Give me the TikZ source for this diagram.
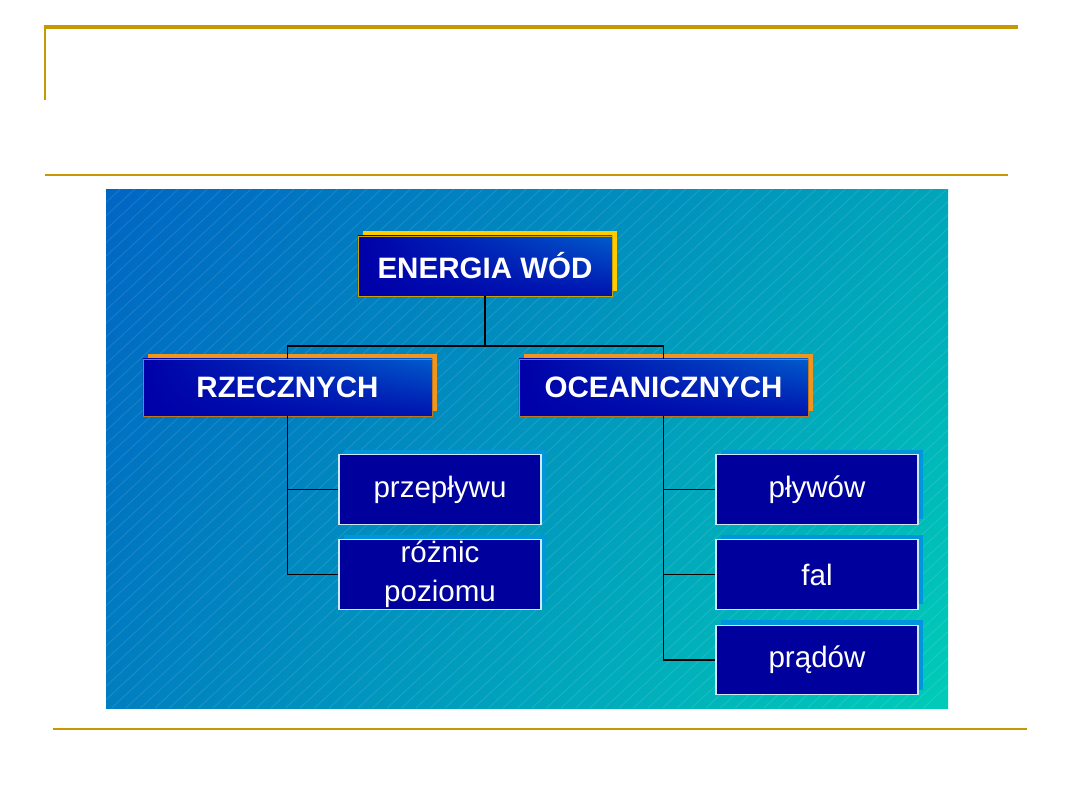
\documentclass[tikz,border=0pt]{standalone}
\usepackage{fontspec}
\setmainfont{Liberation Sans}
\usetikzlibrary{shadows,shadings}

\definecolor{gold}{RGB}{200,152,0}
\definecolor{bgtl}{RGB}{0,102,196}
\definecolor{bgtr}{RGB}{0,166,186}
\definecolor{bgbl}{RGB}{0,126,192}
\definecolor{bgbr}{RGB}{0,204,184}
\definecolor{navy}{RGB}{0,0,156}
\definecolor{boxlight}{RGB}{0,92,204}
\definecolor{boxdark}{RGB}{0,0,168}
\definecolor{yellowshadow}{RGB}{255,204,0}
\definecolor{orangeshadow}{RGB}{240,150,30}
\definecolor{blueshadow}{RGB}{0,150,222}

\begin{document}
\begin{tikzpicture}[
      x=0.025cm, y=-0.025cm,
      bigbox/.style={rectangle, inner sep=0pt, text=white,
        font=\fontsize{21}{25}\selectfont\bfseries,
        upper left=boxdark, lower left=boxdark, upper right=boxlight, lower right=boxdark!80!boxlight},
      topbox/.style={bigbox, draw=yellowshadow!80!black, line width=0.6pt,
        minimum width=6.35cm, minimum height=1.5cm,
        general shadow={fill=yellowshadow, shadow xshift=0.125cm, shadow yshift=0.125cm}},
      midbox/.style={bigbox, draw=orangeshadow!80!black, line width=0.6pt,
        minimum width=7.225cm, minimum height=1.425cm,
        general shadow={fill=orangeshadow, shadow xshift=0.125cm, shadow yshift=0.125cm}},
      leafbox/.style={rectangle, inner sep=0pt, fill=navy, draw=white!80!blueshadow, line width=0.8pt,
        text=white, align=center, font=\fontsize{21}{27.5}\selectfont,
        minimum width=5.05cm, minimum height=1.74cm,
        general shadow={fill=blueshadow, shadow xshift=0.125cm, shadow yshift=0.125cm}},
      link/.style={black, line width=0.8pt}
    ]

    \useasboundingbox (0,0) rectangle (1080,810);

    % ---- slide frame ----
    \draw[gold, line width=2.4pt] (44,27) -- (1018,27);
    \draw[gold, line width=1.4pt] (45,27) -- (45,100);
    \draw[gold, line width=1pt] (45,175) -- (1008,175);
    \draw[gold, line width=1.4pt] (53,729) -- (1027,729);

    % ---- background panel with stripes ----
    \shade[upper left=bgtl, upper right=bgtr, lower left=bgbl, lower right=bgbr]
      (106,189) rectangle (948,708);
    \begin{scope}
      \clip (106,189) rectangle (948,708);
      \foreach \i in {0,...,95}
        \draw[white, opacity=0.13, line width=0.5pt] ({106+\i*14.5-560},708) -- ({106+\i*14.5},189);
    \end{scope}

    % ---- column positions ----
    \def\xl{287.5}
    \def\xr{663.5}
    \def\xleafl{440}
    \def\xleafr{817}

    % ================= boxes =================
    \node[topbox] (energia) at (485,266) {ENERGIA WÓD};

    \node[midbox] (rzeczne) at (\xl,387.5) {RZECZNYCH};
    \node[midbox] (oceaniczne) at (\xr,387.5) {OCEANICZNYCH};

    \node[leafbox] (przeplyw) at (\xleafl,489.5) {przepływu};
    \node[leafbox] (roznice) at (\xleafl,574.5) {różnic\\poziomu};

    \node[leafbox] (plywy) at (\xleafr,489.5) {pływów};
    \node[leafbox] (fale) at (\xleafr,574.5) {fal};
    \node[leafbox] (prady) at (\xleafr,660) {prądów};

    % ================= connectors =================
    \coordinate (split) at (485,346);
    \draw[link] (energia.south) -- (split);
    \draw[link] (split) -| (rzeczne.north);
    \draw[link] (split) -| (oceaniczne.north);

    \draw[link] (rzeczne.south) |- (przeplyw.west);
    \draw[link] (rzeczne.south) |- (roznice.west);

    \draw[link] (oceaniczne.south) |- (plywy.west);
    \draw[link] (oceaniczne.south) |- (fale.west);
    \draw[link] (oceaniczne.south) |- (prady.west);

\end{tikzpicture}
\end{document}
